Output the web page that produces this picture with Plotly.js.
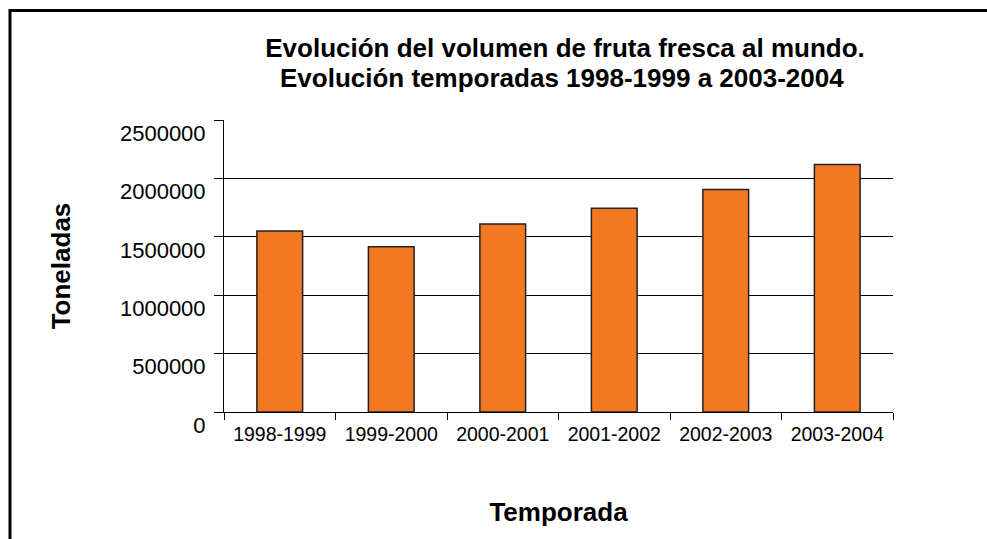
<!DOCTYPE html>
<html>
<head>
<meta charset="utf-8">
<script src="https://cdn.plot.ly/plotly-3.0.1.min.js"></script>
<style>
  html, body { margin: 0; padding: 0; background: #ffffff; }
  #chart { width: 987px; height: 539px; }
</style>
</head>
<body>
<div id="chart"></div>
<script>
const categories = ['1998-1999', '1999-2000', '2000-2001', '2001-2002', '2002-2003', '2003-2004'];
const toneladas = [1550000, 1415000, 1610000, 1745000, 1905000, 2120000];
const yTickVals = [0, 500000, 1000000, 1500000, 2000000, 2500000];
const yTickText = ['0', '500000', '1000000', '1500000', '2000000', '2500000'];
const titleLine1 = 'Evolución del volumen de fruta fresca al mundo.';
const titleLine2 = 'Evolución temporadas 1998-1999 a 2003-2004';
const xTitle = 'Temporada';
const yTitle = 'Toneladas';

const FONT = 'Liberation Sans, Arial, Helvetica, sans-serif';

const trace = {
  type: 'bar',
  x: categories,
  y: toneladas,
  marker: { color: '#F37822', line: { color: '#222222', width: 1.5 } },
  hoverinfo: 'x+y'
};

const layout = {
  width: 987,
  height: 539,
  margin: { l: 224, r: 94, t: 120, b: 127, pad: 0 },
  paper_bgcolor: '#ffffff',
  plot_bgcolor: '#ffffff',
  showlegend: false,
  bargap: 0.59,
  font: { family: FONT, color: '#000000' },
  title: {
    text: titleLine1,
    font: { family: FONT, size: 26, color: '#000000', weight: 'bold' },
    xref: 'container', x: 0.5725, xanchor: 'center',
    yref: 'container', y: 0.9105, yanchor: 'middle'
  },
  annotations: [{
    text: titleLine2,
    xref: 'paper', yref: 'paper', x: 0.505, y: 1.145,
    xanchor: 'center', yanchor: 'middle', showarrow: false,
    font: { family: FONT, size: 26, color: '#000000', weight: 'bold' }
  }],
  xaxis: {
    type: 'category',
    tickson: 'boundaries',
    ticks: 'outside', ticklen: 7, tickwidth: 1, tickcolor: '#000000',
    ticklabelstandoff: 5,
    showline: true, linecolor: '#000000', linewidth: 1,
    showgrid: false,
    tickfont: { family: FONT, size: 19.5, color: '#000000' },
    title: { text: xTitle, standoff: 58, font: { family: FONT, size: 26, color: '#000000', weight: 'bold' } },
    fixedrange: true
  },
  yaxis: {
    range: [0, 2500000],
    tickvals: yTickVals,
    ticktext: yTickText,
    ticks: 'outside', ticklen: 9, tickwidth: 1, tickcolor: '#000000',
    ticklabelshift: 13,
    ticklabelstandoff: 4,
    showline: true, linecolor: '#000000', linewidth: 1,
    showgrid: true, gridcolor: '#000000', gridwidth: 1,
    zeroline: false,
    tickfont: { family: FONT, size: 22, color: '#000000' },
    title: { text: yTitle, standoff: 41, font: { family: FONT, size: 26, color: '#000000', weight: 'bold' } },
    fixedrange: true
  },
  shapes: [{
    type: 'rect', xref: 'paper', yref: 'paper',
    x0: -0.3199, x1: 1.17, y0: -0.52, y1: 1.375,
    line: { color: '#000000', width: 3 }, fillcolor: 'rgba(0,0,0,0)', layer: 'below'
  }]
};

Plotly.newPlot('chart', [trace], layout, { displayModeBar: false, staticPlot: true });
</script>
</body>
</html>
